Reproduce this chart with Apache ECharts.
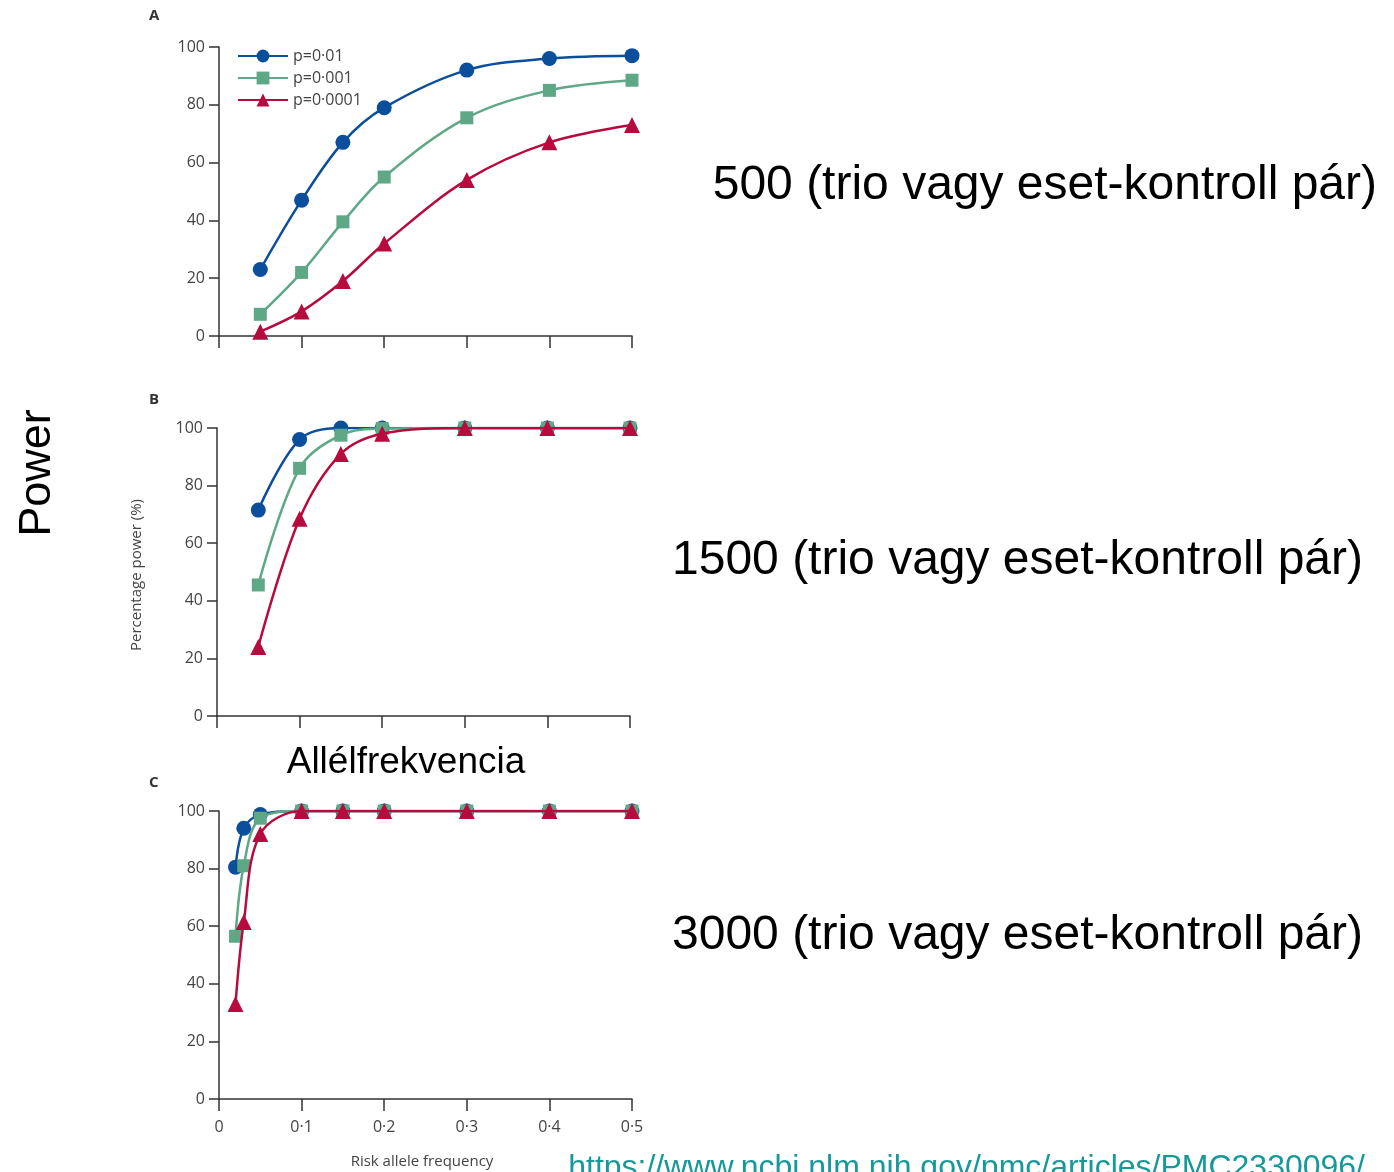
<!DOCTYPE html>
<html>
<head>
<meta charset="utf-8">
<script src="https://cdn.jsdelivr.net/npm/echarts@6/dist/echarts.min.js"></script>
<style>
  html, body { margin: 0; padding: 0; background: #fff; }
  #chart { width: 1394px; height: 1172px; }
</style>
</head>
<body>
<div id="chart"></div>
<script>
// panel A / B: 500 and 1500 pairs
const freqAB = [0.05, 0.1, 0.15, 0.2, 0.3, 0.4, 0.5];
const aP01 = [23, 47, 67, 79, 92, 96, 97];
const aP001 = [7.5, 22, 39.5, 55, 75.5, 85, 88.5];
const aP0001 = [1.5, 8.5, 19, 32, 54, 67, 73];

const bP01 = [71.5, 96, 100, 100, 100, 100, 100];
const bP001 = [45.5, 86, 97.5, 99.8, 100, 100, 100];
const bP0001 = [24, 68.5, 91, 98, 100, 100, 100];

// panel C: 3000 pairs
const freqC = [0.02, 0.03, 0.05, 0.1, 0.15, 0.2, 0.3, 0.4, 0.5];
const cP01 = [80.5, 94, 98.8, 100, 100, 100, 100, 100, 100];
const cP001 = [56.5, 81, 97.5, 100, 100, 100, 100, 100, 100];
const cP0001 = [33, 61.5, 92, 100, 100, 100, 100, 100, 100];

const seriesNames = ['p=0·01', 'p=0·001', 'p=0·0001'];
const colors = ['#0b4f9c', '#5fa886', '#b80b3d'];
const symbols = ['circle', 'rect', 'triangle'];
const symbolSizes = [15, 13, 16];

const sideLabels = [
  '500 (trio vagy eset-kontroll pár)',
  '1500 (trio vagy eset-kontroll pár)',
  '3000 (trio vagy eset-kontroll pár)'
];

const grids = [
  { left: 219, top: 47, width: 413, height: 289 },
  { left: 217, top: 428, width: 413, height: 288 },
  { left: 219, top: 811, width: 413, height: 288 }
];

const chart = echarts.init(document.getElementById('chart'));

const axisLine = { lineStyle: { color: '#333', width: 1.5 } };
const tickLabelStyle = { color: '#444', fontSize: 16, fontFamily: 'Open Sans' };

function pairs(xs, ys) {
  return xs.map((x, i) => [x, ys[i]]);
}

const panelData = [
  [freqAB, [aP01, aP001, aP0001]],
  [freqAB, [bP01, bP001, bP0001]],
  [freqC, [cP01, cP001, cP0001]]
];

const series = [];
panelData.forEach(([xs, sets], g) => {
  sets.forEach((ys, k) => {
    series.push({
      name: seriesNames[k],
      type: 'line',
      xAxisIndex: g,
      yAxisIndex: g,
      data: pairs(xs, ys),
      smooth: 0.35,
      symbol: symbols[k],
      symbolSize: symbolSizes[k],
      color: colors[k],
      lineStyle: { width: 2.5, color: colors[k] },
      itemStyle: { color: colors[k] },
      z: 3 + k
    });
  });
});

const option = {
  animation: false,
  backgroundColor: '#fff',
  grid: grids,
  legend: {
    left: 232,
    top: 43,
    orient: 'vertical',
    itemWidth: 50,
    itemHeight: 16,
    itemGap: 6,
    data: seriesNames,
    textStyle: { color: '#444', fontSize: 16, fontFamily: 'Open Sans', padding: [0, 0, 0, 0] }
  },
  xAxis: grids.map((_, i) => ({
    type: 'value',
    gridIndex: i,
    min: 0,
    max: 0.5,
    interval: 0.1,
    splitLine: { show: false },
    axisLine: axisLine,
    axisTick: { show: true, length: 12, lineStyle: { color: '#333', width: 1.5 } },
    axisLabel: {
      show: i === 2,
      margin: 20,
      ...tickLabelStyle,
      formatter: v => String(+v.toFixed(1)).replace('.', '·')
    }
  })),
  yAxis: grids.map((_, i) => ({
    type: 'value',
    gridIndex: i,
    min: 0,
    max: 100,
    interval: 20,
    splitLine: { show: false },
    axisLine: { show: true, ...axisLine },
    axisTick: { show: true, length: 10, lineStyle: { color: '#333', width: 1.5 } },
    axisLabel: { margin: 14, ...tickLabelStyle }
  })),
  series: series,
  graphic: [
    { type: 'text', left: 149, top: 8, style: { text: 'A', fontSize: 15, fontWeight: 'bold', fill: '#333', fontFamily: 'Open Sans' } },
    { type: 'text', left: 149, top: 392, style: { text: 'B', fontSize: 15, fontWeight: 'bold', fill: '#333', fontFamily: 'Open Sans' } },
    { type: 'text', left: 149, top: 775, style: { text: 'C', fontSize: 15, fontWeight: 'bold', fill: '#333', fontFamily: 'Open Sans' } },
    {
      type: 'text', x: 137, y: 575, rotation: Math.PI / 2,
      style: { text: 'Percentage power (%)', fontSize: 15, fill: '#444', fontFamily: 'Open Sans', align: 'center', verticalAlign: 'middle' }
    },
    {
      type: 'text', x: 422, y: 1162,
      style: { text: 'Risk allele frequency', fontSize: 15, fill: '#444', fontFamily: 'Open Sans', align: 'center', verticalAlign: 'middle' }
    },
    {
      type: 'text', x: 38, y: 473, rotation: Math.PI / 2,
      style: { text: 'Power', fontSize: 45, fill: '#000', fontFamily: 'Liberation Sans', align: 'center', verticalAlign: 'middle' }
    },
    {
      type: 'text', x: 406, y: 763,
      style: { text: 'Allélfrekvencia', fontSize: 37, fill: '#000', fontFamily: 'Liberation Sans', align: 'center', verticalAlign: 'middle' }
    },
    {
      type: 'text', x: 1377, y: 186,
      style: { text: sideLabels[0], fontSize: 48, fill: '#000', fontFamily: 'Liberation Sans', align: 'right', verticalAlign: 'middle' }
    },
    {
      type: 'text', x: 1363, y: 561,
      style: { text: sideLabels[1], fontSize: 48, fill: '#000', fontFamily: 'Liberation Sans', align: 'right', verticalAlign: 'middle' }
    },
    {
      type: 'text', x: 1363, y: 936,
      style: { text: sideLabels[2], fontSize: 48, fill: '#000', fontFamily: 'Liberation Sans', align: 'right', verticalAlign: 'middle' }
    },
    {
      type: 'text', x: 1365, y: 1168,
      style: { text: 'https://www.ncbi.nlm.nih.gov/pmc/articles/PMC2330096/', fontSize: 32, fill: '#17999a', fontFamily: 'Liberation Sans', align: 'right', verticalAlign: 'middle' }
    }
  ]
};

chart.setOption(option);
window.addEventListener('resize', () => chart.resize());
</script>
</body>
</html>
